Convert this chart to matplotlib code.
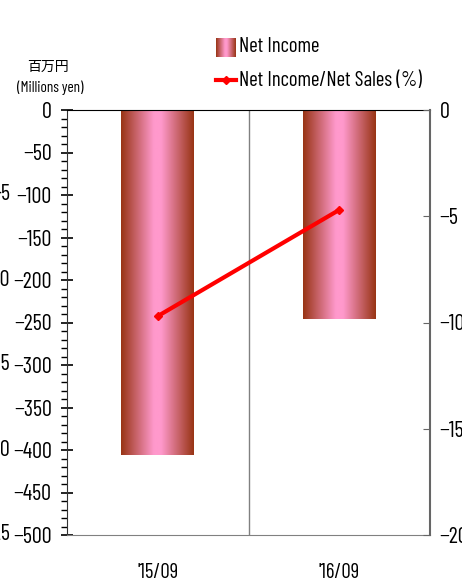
import matplotlib
matplotlib.use("Agg")
import matplotlib.pyplot as plt
import numpy as np
from matplotlib.colors import LinearSegmentedColormap
from matplotlib.lines import Line2D
from matplotlib.transforms import blended_transform_factory

plt.rcParams['font.family'] = ['Barlow Condensed', 'Noto Sans CJK JP', 'DejaVu Sans']

# data
periods = ["'15/09", "'16/09"]
net_income = [-406, -246]          # millions of yen
ratio = [-9.7, -4.7]               # net income / net sales (%)
hidden_labels = ['-5', '-10', '-15', '-20', '-25']   # clipped axis at far left
hidden_pos = [-100, -200, -300, -400, -500]

grad = LinearSegmentedColormap.from_list(
    'bar', [(0, '#983414'), (0.45, '#ff99cc'), (0.55, '#ff99cc'), (1, '#983414')])
strip = np.linspace(0, 1, 256).reshape(1, -1)

fig = plt.figure(figsize=(4.62, 5.79), dpi=100)
ax = fig.add_axes([67/462, 44/579, 363/462, 425/579])

x = np.arange(len(periods))
w = 0.4
for xi, v in zip(x, net_income):
    ax.imshow(strip, cmap=grad, aspect='auto', extent=[xi - w/2, xi + w/2, v, 0],
              zorder=2, interpolation='bilinear')
ax.set_xlim(-0.5, len(periods) - 0.5)
ax.set_ylim(-500, 0)
ax.axvline((x[0] + x[1]) / 2, color='#808080', lw=1, zorder=1)

ax.set_yticks(np.arange(-500, 1, 50))
ax.set_yticks(np.arange(-500, 1, 10), minor=True)
ax.tick_params(axis='y', which='major', direction='inout', length=8, width=1.2,
               labelsize=16, pad=7)
ax.tick_params(axis='y', which='minor', direction='out', length=4, width=1)
ax.set_xticks(x)
ax.set_xticklabels(periods)
ax.tick_params(axis='x', length=0, pad=20, labelsize=15)
ax.spines['left'].set_color('#333333')
ax.spines['top'].set_color('black')
ax.spines['bottom'].set_color('#808080')
ax.spines['right'].set_visible(False)

ax2 = ax.twinx()
ax2.plot(x, ratio, color='#ff0000', lw=3, marker='D', ms=4, zorder=5)
ax2.set_ylim(-20, 0)
ax2.set_yticks([0, -5, -10, -15, -20])
ax2.tick_params(axis='y', direction='in', length=5, labelsize=16, pad=7, color='#666666')
ax2.spines['right'].set_color('#666666')
ax2.spines['right'].set_linewidth(1.5)
for s in ['left', 'top', 'bottom']:
    ax2.spines[s].set_visible(False)

# clipped labels of a further axis at the very left
tr = blended_transform_factory(fig.transFigure, ax.transData)
for lab, pos in zip(hidden_labels, hidden_pos):
    ax.text(10/462, pos, lab, transform=tr, ha='right', va='center', fontsize=16, clip_on=False)

# unit labels
fig.text(48/462, 1 - 67/579, '百万円', ha='center', va='center', fontsize=10,
         family=['Noto Sans CJK JP', 'DejaVu Sans'])
fig.text(50/462, 1 - 88/579, '(Millions yen)', ha='center', va='center', fontsize=11)

# legend
lax = fig.add_axes([216/462, 1 - 57/579, 19/462, 19/579])
lax.imshow(strip, cmap=grad, aspect='auto', interpolation='bilinear')
lax.axis('off')
fig.text(239/462, 1 - 47/579, 'Net Income', ha='left', va='center', fontsize=15)
fig.add_artist(Line2D([216/462, 236/462], [1 - 80/579, 1 - 80/579], color='#ff0000',
                      lw=3, transform=fig.transFigure))
fig.add_artist(Line2D([226/462], [1 - 80/579], color='#ff0000', marker='D', ms=4,
                      transform=fig.transFigure))
fig.text(239/462, 1 - 80/579, 'Net Income/Net Sales (%)', ha='left', va='center', fontsize=15)

fig.savefig('out.png', dpi=100)
